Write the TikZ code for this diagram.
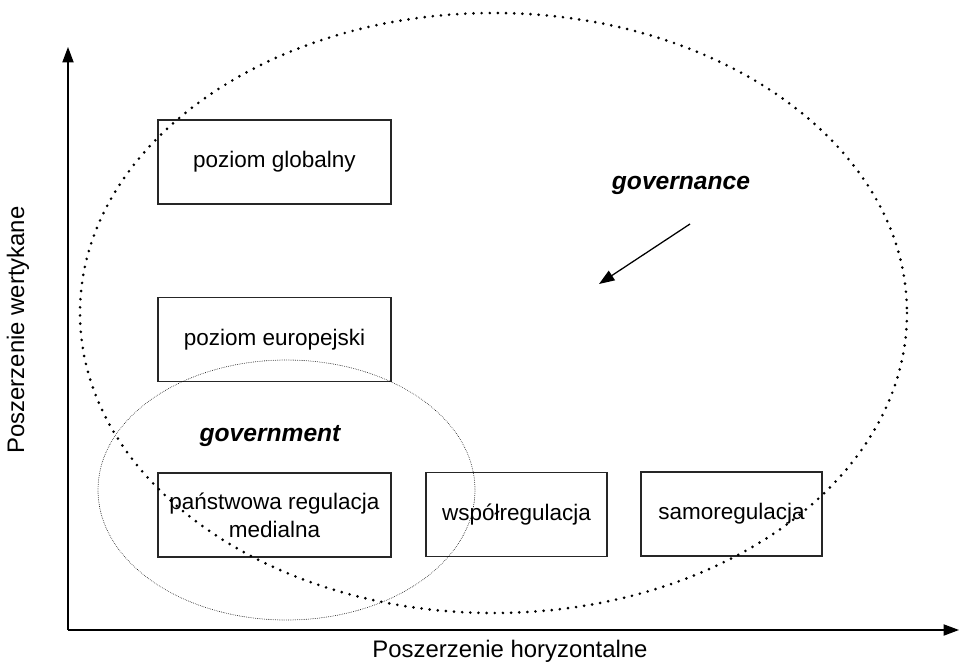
\documentclass[tikz,border=0pt]{standalone}
\usepackage{fontspec}
\setmainfont{Liberation Sans}
\usetikzlibrary{arrows.meta}

\tikzset{
  levelbox/.style={draw=black!85, line width=0.9pt, inner sep=0pt, minimum height=2.1cm, align=center},
  axisline/.style={line width=0.9pt, -{Triangle[length=11pt,width=8pt]}},
  bigdots/.style={line width=2.1pt, line cap=round, dash pattern=on 0pt off 5.8pt},
  finedots/.style={line width=0.6pt, line cap=round, dash pattern=on 0pt off 1.3pt},
  axislabel/.style={font=\fontsize{17}{20}\selectfont},
  keyword/.style={font=\fontsize{17.5}{20}\selectfont\bfseries\itshape}
}

\begin{document}
\begin{tikzpicture}[x=0.025cm, y=-0.025cm, font=\fontsize{16}{20}\selectfont]
             \useasboundingbox (0,0) rectangle (961,663);

             % axes
             \coordinate (origin) at (68, 630);
             \coordinate (ytop) at (68, 47);
             \coordinate (xend) at (959, 630);
             \draw[axisline] (origin) -- (ytop);
             \draw[axisline] (origin) -- (xend);
             \node[axislabel] (xlabel) at (510, 651) {Poszerzenie horyzontalne};
             \node[axislabel, rotate=90] (ylabel) at (18, 330) {Poszerzenie wertykane};

             % levels
             \node[levelbox, minimum width=5.825cm] (global) at (274.5, 162) {poziom globalny};
             \node[levelbox, minimum width=5.825cm] (europe) at (274.5, 339.5) {poziom europejski};
             \node[levelbox, minimum width=5.825cm] (state) at (274.5, 515) {pa\'nstwowa regulacja\\medialna};
             \node[levelbox, minimum width=4.525cm] (coreg) at (516.5, 514.5) {wsp\'o{\l}regulacja};
             \node[levelbox, minimum width=4.525cm] (selfreg) at (731.5, 514) {samoregulacja};

             % circles
             \draw[bigdots] (493.5, 313) ellipse (413.5 and 300);
             \draw[finedots] (286.5, 490) ellipse (188.5 and 130);

             \node[keyword] (governance) at (681, 185) {governance};
             \node[keyword] (government) at (270, 436) {government};

             \coordinate (arrstart) at (690, 224);
             \coordinate (arrend) at (599, 284);
             \draw[line width=0.9pt, -{Triangle[length=11pt,width=8pt]}] (arrstart) -- (arrend);
\end{tikzpicture}
\end{document}
